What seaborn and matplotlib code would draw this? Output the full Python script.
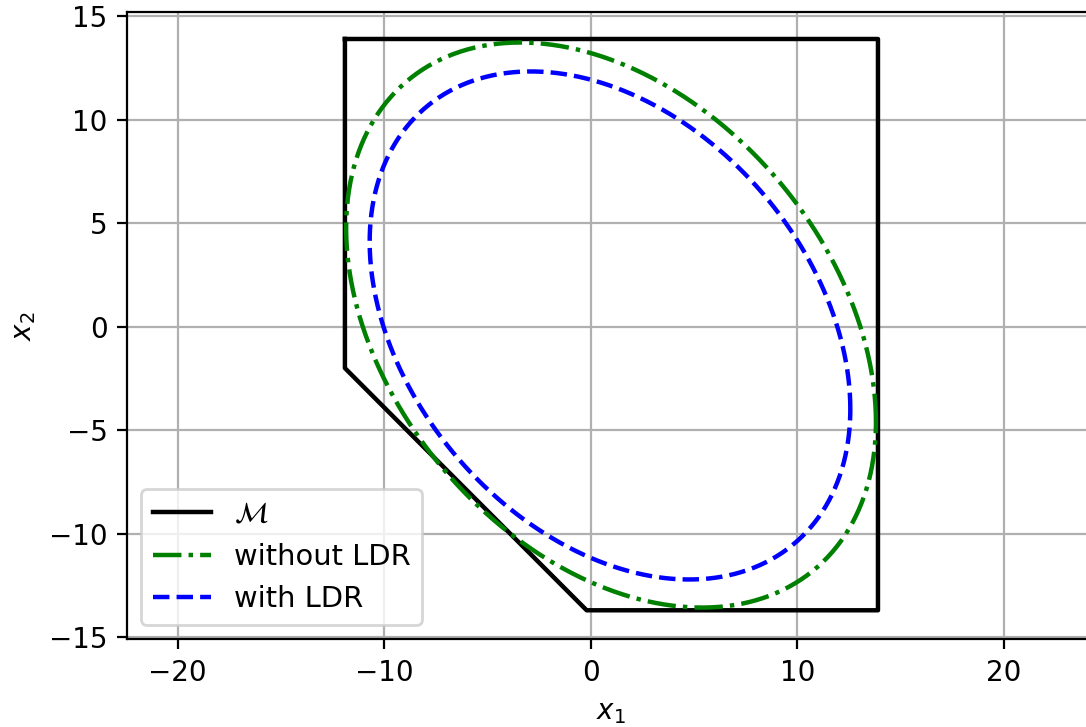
import numpy as np
import pandas as pd
import matplotlib
matplotlib.use("Agg")
import matplotlib.pyplot as plt
import seaborn as sns

# Safe set M (polygon vertices, closed)
m_x = [-11.9, 13.9, 13.9, -0.2, -11.9, -11.9]
m_y = [13.9, 13.9, -13.7, -13.7, -2.0, 13.9]

# Ellipse parameters: centre and shape matrix Q
# (x - c)^T Q^{-1} (x - c) = 1
green_center = [0.98, 0.08]
green_Q = [[164.4, -60.1], [-60.1, 186.3]]
blue_center = [0.93, 0.06]
blue_Q = [[135.3, -47.0], [-47.0, 150.6]]

x_ticks = [-20, -10, 0, 10, 20]
y_ticks = [-15, -10, -5, 0, 5, 10, 15]


def ellipse_points(center, Q, n=400):
    L = np.linalg.cholesky(np.array(Q))
    t = np.linspace(0, 2 * np.pi, n)
    circ = np.vstack([np.cos(t), np.sin(t)])
    pts = L @ circ
    return pts[0] + center[0], pts[1] + center[1]


gx, gy = ellipse_points(green_center, green_Q)
bx, by = ellipse_points(blue_center, blue_Q)

fig = plt.figure(figsize=(5.43, 3.635), dpi=200)
ax = fig.add_axes([0.1169, 0.1204, 0.8913, 0.8627])
ax.grid(True, color="#b0b0b0", linewidth=0.8)
ax.set_axisbelow(True)

sns.lineplot(x=m_x, y=m_y, sort=False, estimator=None, color="black",
             linewidth=1.6, label=r"$\mathcal{M}$", ax=ax)
sns.lineplot(x=gx, y=gy, sort=False, estimator=None, color="green",
             linewidth=1.6, linestyle="-.", label="without LDR", ax=ax)
sns.lineplot(x=bx, y=by, sort=False, estimator=None, color="blue",
             linewidth=1.6, linestyle="--", label="with LDR", ax=ax)

ax.set_xlim(-22.45, 24.4)
ax.set_ylim(-15.11, 15.19)
ax.set_xticks(x_ticks)
ax.set_yticks(y_ticks)
ax.set_xlabel(r"$x_1$")
ax.set_ylabel(r"$x_2$")
ax.legend(loc="lower left", fontsize=10.4)

fig.savefig("out.png", dpi=200)
